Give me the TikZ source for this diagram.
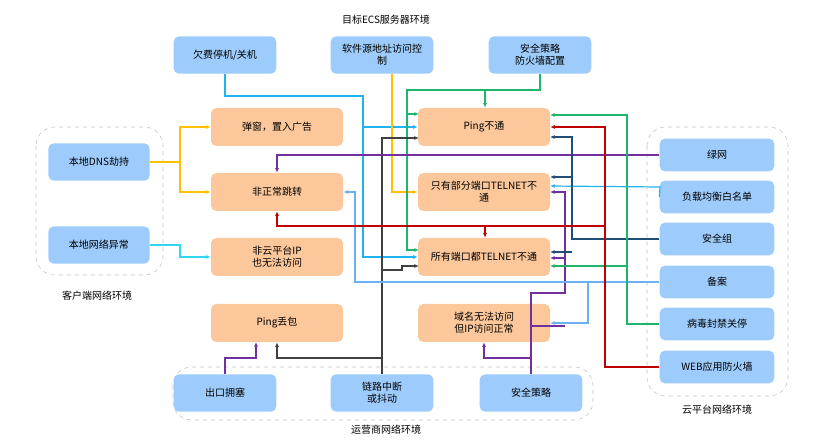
\documentclass[tikz,border=0pt]{standalone}
\usepackage{fontspec}
\setmainfont{Noto Sans CJK SC}
\usetikzlibrary{arrows.meta}
\definecolor{boxblue}{HTML}{9DCBFB}
\definecolor{boxorange}{HTML}{FCC89B}
\definecolor{cyell}{HTML}{FFC000}
\definecolor{ccyan}{HTML}{33D6F0}
\definecolor{csky}{HTML}{1FB4F0}
\definecolor{cgreen}{HTML}{1DB66A}
\definecolor{cgray}{HTML}{404040}
\definecolor{cpurp}{HTML}{7030A0}
\definecolor{cnavy}{HTML}{1F4E79}
\definecolor{clight}{HTML}{6AB2F5}
\definecolor{cred}{HTML}{C00000}
\tikzset{
  src/.style={fill=boxblue,rounded corners=4pt,minimum width=77pt,minimum height=28pt,align=center,font=\fontsize{7.5}{9}\selectfont},
  cld/.style={src,minimum width=86pt,minimum height=24.5pt},
  eff/.style={fill=boxorange,rounded corners=4pt,minimum width=99pt,minimum height=28.5pt,align=center,font=\fontsize{7.5}{9}\selectfont},
  grp/.style={draw=gray!50,dashed,rounded corners=14pt},
  lbl/.style={font=\fontsize{7.5}{9}\selectfont},
  ln/.style={line width=0.9pt,-{Latex[length=3.5pt,width=3pt]}},
}
\begin{document}
\begin{tikzpicture}[x=0.75pt,y=-0.75pt]
\useasboundingbox (0,0) rectangle (826,442);
% groups
\draw[grp] (36,127) rectangle (163,275);
\draw[grp] (647,127) rectangle (788,396);
\draw[grp] (173,367) rectangle (593,420);
\node[lbl] (tEcs) at (386,20) {目标ECS服务器环境};
\node[lbl] (tCli) at (97,296) {客户端网络环境};
\node[lbl] (tCld) at (717,410) {云平台网络环境};
\node[lbl] (tIsp) at (386,430) {运营商网络环境};
% sources
\node[src] (Qf) at (225,55) {欠费停机/关机};
\node[src] (Rj) at (382,55) {软件源地址访问控\\制};
\node[src] (Fw) at (540,55) {安全策略\\防火墙配置};
\node[src,minimum width=76pt] (Dns) at (99,162) {本地DNS劫持};
\node[src,minimum width=76pt] (Lan) at (99,245) {本地网络异常};
\node[src] (Ck) at (225,393) {出口拥塞};
\node[src] (Ll) at (382,393) {链路中断\\或抖动};
\node[src] (Aq) at (531,393) {安全策略};
\node[cld] (Lw) at (717,155) {绿网};
\node[cld] (Fz) at (717,197) {负载均衡白名单};
\node[cld] (Aqz) at (717,239) {安全组};
\node[cld] (Ba) at (717,282) {备案};
\node[cld] (Bd) at (717,324) {病毒封禁关停};
\node[cld] (Waf) at (717,367) {WEB应用防火墙};
% effects
\node[eff] (Tc) at (277,127) {弹窗，置入广告};
\node[eff] (Tz) at (277,192) {非正常跳转};
\node[eff] (Fy) at (277,257) {非云平台IP\\也无法访问};
\node[eff] (Db) at (277,323) {Ping丢包};
\node[eff] (Pb) at (484,127) {Ping不通};
\node[eff] (Bf) at (484,192) {只有部分端口TELNET不\\通};
\node[eff] (Sy) at (484,257) {所有端口都TELNET不通};
\node[eff] (Ym) at (484,323) {域名无法访问\\但IP访问正常};
% client
\draw[ln,cyell] (Dns.east) -- (180,162) |- (Tc.west);
\draw[ln,cyell] (180,162) |- (Tz.west);
\draw[ln,ccyan] (Lan.east) -- (180,245) |- (Fy.west);
% server
\draw[ln,csky] (Qf.south) |- (363,96) |- (Pb.west);
\draw[ln,csky] (363,127) |- (Sy.west);
\draw[ln,cyell] (Rj.south -| 392,0) |- (Bf.west);
\draw[ln,cgreen] (Fw.south) |- (485,90) -- (Pb.north -| 485,0);
\draw[ln,cgreen] (485,90) -| (407,114) -- (419,114);
\draw[ln,cgreen] (407,114) |- (419,250);
% isp
\draw[ln,cgray] (Ll.north) |- (419,138);
\draw[ln,cgray] (383,270) -- (402,270) -- (402,266) -- (419,266);
\draw[ln,cgray] (383,358) -| (Db.south);
\draw[ln,cpurp] (Ck.north) |- (256,358) -- (256,342);
\draw[ln,cpurp] (Aq.north) |- (484,358) -- (Ym.south);
\draw[ln,cpurp] (531,358) |- (565,293) |- (550,192);
\draw[ln,cpurp] (565,258) -- (550,258);
\draw[cpurp,line width=0.9pt] (531,326) -- (565,326);
% cloud
\draw[ln,cpurp] (Lw.west) -| (Tz.north);
\draw[ln,csky] (Fz.west) -- (660,187) -- (550,186);
\draw[ln,cnavy] (Aqz.west) -| (572,137) -- (550,137);
\draw[ln,cnavy] (572,177) -- (550,177);
\draw[ln,cnavy] (572,252) -- (550,252);
\draw[ln,clight] (Ba.west) -| (355,192) -- (Tz.east);
\draw[ln,clight] (588,282) |- (550,323);
\draw[ln,cgreen] (Bd.west) -| (627,115) -- (550,115);
\draw[ln,cgreen] (627,266) -- (550,266);
\draw[ln,cred] (Waf.west) -| (605,127) -- (Pb.east);
\draw[ln,cred] (605,226) -| (Tz.south);
\draw[ln,cred] (485,226) -- (Sy.north -| 485,0);
\end{tikzpicture}
\end{document}
